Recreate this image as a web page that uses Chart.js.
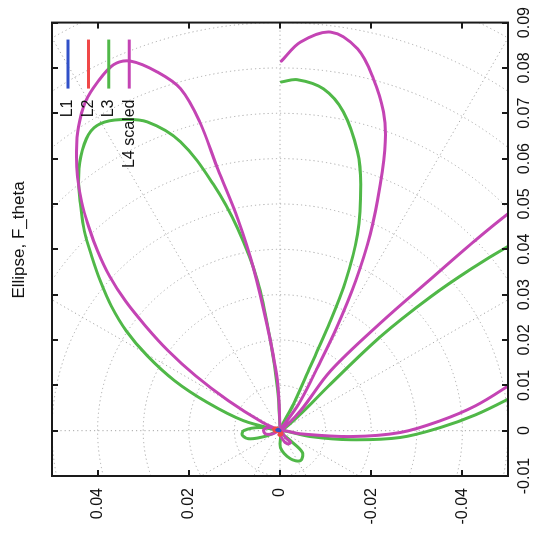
<!DOCTYPE html>
<html><head><meta charset="utf-8">
<script src="https://cdn.jsdelivr.net/npm/chart.js@4.4.1/dist/chart.umd.min.js"></script>
<style>
html,body{margin:0;padding:0;background:#fff;overflow:hidden;width:542px;height:538px;}
#wrap{position:absolute;left:0;top:0;width:538px;height:542px;transform-origin:0 0;transform:translate(0,538px) rotate(-90deg);background:#fff;}
</style></head><body>
<div id="wrap"><canvas id="c" width="538" height="542"></canvas></div>
<script>
// ---- data (original orientation: x horizontal, y vertical) ----
const chartTitle = 'Ellipse, F_theta';
const seriesNames = ['L1', 'L2', 'L3', 'L4 scaled'];
const seriesColors = ['#3050c8', '#f04848', '#50b848', '#c444b4'];
const xTickValues = [-0.01, 0, 0.01, 0.02, 0.03, 0.04, 0.05, 0.06, 0.07, 0.08, 0.09];
const xTickLabels = ['-0.01', '0', '0.01', '0.02', '0.03', '0.04', '0.05', '0.06', '0.07', '0.08', '0.09'];
const yTickValues = [0.04, 0.02, 0, -0.02, -0.04];
const yTickLabels = ['0.04', '0.02', '0', '-0.02', '-0.04'];
const polarRadii = [0.01, 0.02, 0.03, 0.04, 0.05, 0.06, 0.07, 0.08, 0.09, 0.10, 0.11, 0.12];
const polarAngles = [0, 30, 60, 90, 120, 150, 180, 210, 240, 270, 300, 330];

const l1X = [0, 0.0003, 0.0001, 0];
const l1Y = [0, 0.0004, 0.0007, 0];
const l2X = [0, 0.0006, 0.0004, -0.0002, 0, -0.0008, -0.0010, 0];
const l2Y = [0, 0.0008, 0.0014, 0.0010, 0, -0.0004, 0.0002, 0];
const l3X = [0, 0.0088, 0.0198, 0.0330, 0.0446, 0.0543, 0.0637, 0.0681, 0.0686, 0.0677, 0.0653, 0.0604, 0.0549, 0.0495, 0.0440, 0.0385, 0.0330, 0.0275, 0.0220, 0.0165, 0.0110, 0.0062, 0.0022, 0,
  0.0007, 0.0000, -0.0011, -0.0018, -0.0011, 0,
  -0.0037, -0.0062, -0.0066, -0.0048, -0.0022, 0,
  -0.0013, -0.0020, -0.0015, 0.0007, 0.0035, 0.0070, 0.0097, null, 0.0444, 0.0407, 0.0356, 0.0295, 0.0207, 0.0103, 0.0033, 0,
  0.0059, 0.0143, 0.0231, 0.0330, 0.0433, 0.0543, 0.0615, 0.0703, 0.0754, 0.0774, 0.0769];
const l3Y = [0, 0.0005, 0.0021, 0.0049, 0.0093, 0.0146, 0.0218, 0.0291, 0.0350, 0.0394, 0.0420, 0.0437, 0.0442, 0.0437, 0.0429, 0.0413, 0.0394, 0.0370, 0.0337, 0.0291, 0.0231, 0.0159, 0.0080, 0,
  0.0043, 0.0080, 0.0082, 0.0065, 0.0027, 0,
  -0.0001, -0.0023, -0.0045, -0.0049, -0.0023, 0,
  -0.0067, -0.0155, -0.0264, -0.0352, -0.0429, -0.0501, -0.0549, null, -0.0571, -0.0501, -0.0418, -0.0330, -0.0220, -0.0111, -0.0041, 0,
  -0.0030, -0.0067, -0.0106, -0.0144, -0.0170, -0.0177, -0.0170, -0.0139, -0.0095, -0.0038, -0.0003];
const l4X = [0, 0.0103, 0.0226, 0.0358, 0.0468, 0.0578, 0.0681, 0.0754, 0.0791, 0.0815, 0.0807, 0.0769, 0.0725, 0.0670, 0.0615, 0.0560, 0.0505, 0.0451, 0.0396, 0.0341, 0.0286, 0.0231, 0.0176, 0.0121, 0.0066, 0.0018, 0,
  0.0007, 0.0002, -0.0007, -0.0007, 0,
  -0.0015, -0.0026, -0.0029, -0.0018, 0,
  -0.0007, -0.0013, -0.0004, 0.0022, 0.0055, 0.0099, 0.0132, null, 0.0527, 0.0479, 0.0411, 0.0334, 0.0237, 0.0132, 0.0044, 0,
  0.0059, 0.0143, 0.0231, 0.0330, 0.0433, 0.0543, 0.0637, 0.0703, 0.0776, 0.0842, 0.0879, 0.0857, 0.0815];
const l4Y = [0, 0.0005, 0.0027, 0.0058, 0.0093, 0.0137, 0.0176, 0.0218, 0.0269, 0.0328, 0.0365, 0.0400, 0.0427, 0.0442, 0.0446, 0.0444, 0.0435, 0.0420, 0.0400, 0.0374, 0.0339, 0.0295, 0.0245, 0.0185, 0.0113, 0.0038, 0,
  0.0021, 0.0036, 0.0032, 0.0016, 0,
  -0.0012, -0.0023, -0.0016, -0.0005, 0,
  -0.0045, -0.0155, -0.0264, -0.0352, -0.0429, -0.0501, -0.0549, null, -0.0571, -0.0501, -0.0418, -0.0330, -0.0220, -0.0111, -0.0045, 0,
  -0.0041, -0.0084, -0.0126, -0.0166, -0.0198, -0.0220, -0.0231, -0.0227, -0.0205, -0.0170, -0.0111, -0.0045, -0.0003];

const seriesX = [l1X, l2X, l3X, l4X];
const seriesY = [l1Y, l2Y, l3Y, l4Y];
const drawOrder = [-2, -1, 1, 0];

const FONT = '"Liberation Sans", Arial, Helvetica, sans-serif';

const polarGrid = {
  id: 'polarGrid',
  beforeDatasetsDraw(chart) {
    const {ctx, chartArea: a, scales: {x, y}} = chart;
    const cx = x.getPixelForValue(0), cy = y.getPixelForValue(0);
    ctx.save();
    ctx.beginPath(); ctx.rect(a.left, a.top, a.right - a.left, a.bottom - a.top); ctx.clip();
    ctx.strokeStyle = '#a8a8a8'; ctx.lineWidth = 1; ctx.setLineDash([1.2, 3]);
    polarRadii.forEach(r => {
      const rx = x.getPixelForValue(r) - cx, ry = cy - y.getPixelForValue(r);
      ctx.beginPath(); ctx.ellipse(cx, cy, rx, ry, 0, 0, Math.PI * 2); ctx.stroke();
    });
    polarAngles.forEach(d => {
      const t = d * Math.PI / 180, R = 0.2;
      ctx.beginPath(); ctx.moveTo(cx, cy);
      ctx.lineTo(x.getPixelForValue(R * Math.cos(t)), y.getPixelForValue(R * Math.sin(t)));
      ctx.stroke();
    });
    ctx.restore();
  }
};

const frameAndKey = {
  id: 'frameAndKey',
  afterDatasetsDraw(chart) {
    const {ctx, chartArea: a, scales: {x, y}} = chart;
    ctx.save();
    ctx.strokeStyle = '#1a1a1a'; ctx.lineWidth = 2;
    ctx.strokeRect(a.left, a.top, a.right - a.left, a.bottom - a.top);
    const tl = 6;
    ctx.beginPath();
    xTickValues.forEach(v => {
      const px = Math.round(x.getPixelForValue(v));
      ctx.moveTo(px, a.bottom); ctx.lineTo(px, a.bottom - tl);
      ctx.moveTo(px, a.top); ctx.lineTo(px, a.top + tl);
    });
    yTickValues.forEach(v => {
      const py = Math.round(y.getPixelForValue(v));
      ctx.moveTo(a.left, py); ctx.lineTo(a.left + tl, py);
      ctx.moveTo(a.right, py); ctx.lineTo(a.right - tl, py);
    });
    ctx.stroke();
    // key (text then sample line)
    ctx.font = '16px ' + FONT; ctx.textAlign = 'right'; ctx.textBaseline = 'middle'; ctx.fillStyle = '#111';
    seriesNames.forEach((n, i) => {
      const yy = a.top + 16 + i * 20.4;
      ctx.fillText(n, a.right - 77, yy);
      ctx.strokeStyle = seriesColors[i]; ctx.lineWidth = 3;
      ctx.beginPath(); ctx.moveTo(a.right - 66, yy); ctx.lineTo(a.right - 17, yy); ctx.stroke();
    });
    // title
    ctx.font = '17px ' + FONT; ctx.textAlign = 'center'; ctx.textBaseline = 'middle'; ctx.fillStyle = '#111';
    ctx.fillText(chartTitle, 298, 19);
    ctx.restore();
  }
};

const datasets = seriesNames.map((name, i) => ({
  label: name,
  data: seriesX[i].map((v, j) => ({x: v, y: seriesY[i][j]})),
  showLine: true,
  borderColor: seriesColors[i],
  backgroundColor: seriesColors[i],
  borderWidth: 3,
  pointRadius: 0,
  tension: 0.35,
  spanGaps: false,
  borderJoinStyle: 'round',
  borderCapStyle: 'round',
  order: drawOrder[i],
  clip: 0
}));

new Chart(document.getElementById('c'), {
  type: 'scatter',
  data: {datasets},
  options: {
    responsive: false,
    animation: false,
    devicePixelRatio: 1,
    layout: {padding: {top: 52, right: 21, bottom: 0, left: 0}},
    plugins: {legend: {display: false}, tooltip: {enabled: false}, title: {display: false}},
    scales: {
      x: {
        type: 'linear', position: 'bottom', min: -0.01, max: 0.09,
        grid: {display: false, drawTicks: false}, border: {display: false},
        afterBuildTicks: s => { s.ticks = xTickValues.map(v => ({value: v})); },
        afterFit: s => { s.height = 34; },
        ticks: {maxRotation: 0, minRotation: 0, padding: 7, color: '#111', font: {family: FONT, size: 16},
          callback: (v, i) => xTickLabels[i]}
      },
      y: {
        type: 'linear', position: 'left', min: -0.05, max: 0.05,
        grid: {display: false, drawTicks: false}, border: {display: false},
        afterBuildTicks: s => { s.ticks = yTickValues.map(v => ({value: v})); },
        afterFit: s => { s.width = 62; },
        ticks: {padding: 12, color: '#111', font: {family: FONT, size: 16},
          callback: (v, i) => yTickLabels[i]}
      }
    }
  },
  plugins: [polarGrid, frameAndKey]
});
</script>
</body></html>
